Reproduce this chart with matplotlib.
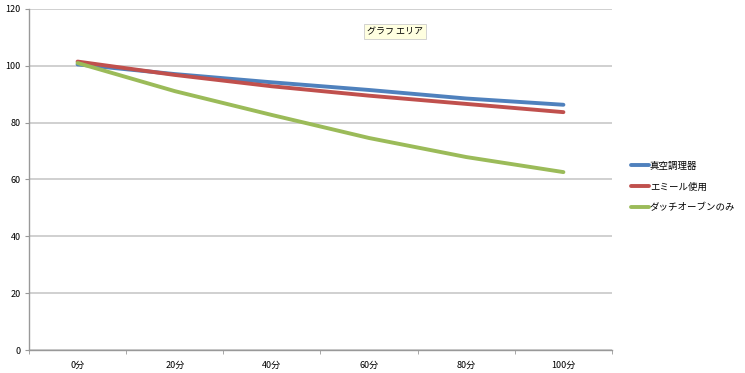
import matplotlib
matplotlib.use('Agg')
import matplotlib.pyplot as plt

plt.rcParams['font.family'] = ['Noto Sans CJK JP', 'DejaVu Sans']

categories = ['0分', '20分', '40分', '60分', '80分', '100分']
vacuum = [100.5, 97.1, 94.2, 91.5, 88.5, 86.3]
emile = [101.5, 96.8, 92.8, 89.5, 86.6, 83.7]
dutch = [101.0, 91.1, 82.7, 74.6, 67.9, 62.6]
series_names = ['真空調理器', 'エミール使用', 'ダッチオーブンのみ']
colors = ['#4F81BD', '#C0504D', '#9BBB59']

fig = plt.figure(figsize=(7.45, 3.73), dpi=100)
ax = fig.add_axes([29 / 745, 23 / 373, 583 / 745, 341 / 373])

x = list(range(len(categories)))
for vals, name, c in zip([vacuum, emile, dutch], series_names, colors):
    ax.plot(x, vals, color=c, lw=2.8, label=name, solid_capstyle='round')

ax.set_xlim(-0.5, len(categories) - 0.5)
ax.set_ylim(0, 120)
ax.set_yticks(range(0, 121, 20))
ax.set_xticks(x)
ax.set_xticklabels(categories)
ax.set_xticks([i - 0.5 for i in range(len(categories) + 1)], minor=True)
ax.tick_params(axis='x', which='major', length=0, labelsize=6.5, pad=8)
ax.tick_params(axis='x', which='minor', length=3, color='#999999')
ax.tick_params(axis='y', length=3, color='#999999', labelsize=6.5, pad=3)
ax.yaxis.grid(True, color='#c8c8c8', lw=1.2)
ax.set_axisbelow(True)
for s in ['top', 'right']:
    ax.spines[s].set_visible(False)
for s in ['left', 'bottom']:
    ax.spines[s].set_color('#999999')
    ax.spines[s].set_linewidth(1)

leg = fig.legend(loc='upper left', bbox_to_anchor=(622 / 745, 1 - 153 / 373),
                 frameon=False, fontsize=6.8, handlelength=2.0,
                 handletextpad=0.05, labelspacing=1.25)

fig.text(395 / 745, 1 - 31.5 / 373, 'グラフ エリア', fontsize=6.5, ha='center', va='center',
         bbox=dict(boxstyle='square,pad=0.35', fc='#FFFFE0', ec='#cccccc', lw=0.6))

fig.savefig('out.png', dpi=100)
